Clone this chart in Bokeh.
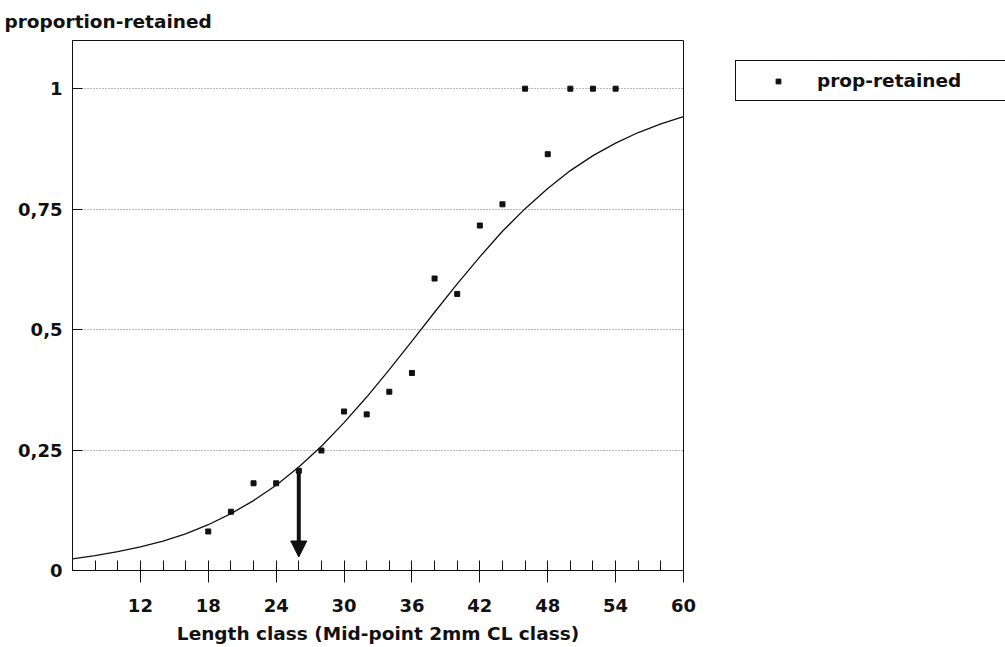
from bokeh.plotting import figure
from bokeh.layouts import row
from bokeh.models import (Range1d, FixedTicker, Arrow, NormalHead, Legend, LegendItem)
from bokeh.embed import file_html
from bokeh.resources import INLINE

# ---- data ----
length_class = [18, 20, 22, 24, 26, 28, 30, 32, 34, 36, 38, 40, 42, 44, 46, 48, 50, 52, 54]
prop_retained = [0.081, 0.122, 0.181, 0.181, 0.207, 0.249, 0.330, 0.324, 0.371, 0.410,
                 0.606, 0.574, 0.716, 0.760, 1.0, 0.864, 1.0, 1.0, 1.0]

# fitted selection curve, every 2 mm
curve_x = [6, 8, 10, 12, 14, 16, 18, 20, 22, 24, 26, 28, 30, 32, 34, 36, 38, 40,
           42, 44, 46, 48, 50, 52, 54, 56, 58, 60]
curve_y = [0.024, 0.031, 0.039, 0.049, 0.061, 0.076, 0.095, 0.118, 0.145, 0.177,
           0.215, 0.258, 0.307, 0.360, 0.417, 0.476, 0.536, 0.595, 0.651, 0.704,
           0.751, 0.793, 0.830, 0.861, 0.887, 0.909, 0.927, 0.942]

# L25 marker arrow
arrow_x = 26
arrow_y_top = 0.207
arrow_y_tip = 0.028

x_ticks = [12, 18, 24, 30, 36, 42, 48, 54, 60]
x_minor = [8, 10, 14, 16, 20, 22, 26, 28, 32, 34, 38, 40, 44, 46, 50, 52, 56, 58]
y_ticks = [0, 0.25, 0.5, 0.75, 1]
y_labels = ["0", "0,25", "0,5", "0,75", "1"]
series_name = "prop-retained"

TXT_FONT = "DejaVu Sans"
TXT_SIZE = "18.5px"
INK = "#111111"

p = figure(width=699, height=647, output_backend="svg", toolbar_location=None,
           x_range=Range1d(6, 60), y_range=Range1d(0, 1.1),
           min_border_left=72, min_border_right=16, min_border_top=40, min_border_bottom=77,
           title="proportion-retained")
p.background_fill_color = "white"
p.border_fill_color = "white"
p.outline_line_color = INK
p.outline_line_width = 1

p.title.text_font = TXT_FONT
p.title.text_font_style = "bold"
p.title.text_font_size = TXT_SIZE
p.title.text_color = INK
p.title.align = "left"
p.title.offset = -68
p.title.standoff = 17

# x axis
xa = p.xaxis[0]
xa.ticker = FixedTicker(ticks=x_ticks, minor_ticks=x_minor)
xa.axis_label = "Length class (Mid-point 2mm CL class)"
xa.axis_label_text_font = TXT_FONT
xa.axis_label_text_font_style = "bold"
xa.axis_label_text_font_size = TXT_SIZE
xa.axis_label_text_color = INK
xa.axis_label_standoff = 8
xa.major_label_text_font = TXT_FONT
xa.major_label_text_font_style = "bold"
xa.major_label_text_font_size = "18px"
xa.major_label_text_color = INK
xa.major_label_standoff = 16
xa.major_tick_in = 10
xa.major_tick_out = 12
xa.minor_tick_in = 10
xa.minor_tick_out = 0
xa.axis_line_color = INK
xa.major_tick_line_color = INK
xa.minor_tick_line_color = INK

# y axis
ya = p.yaxis[0]
ya.ticker = FixedTicker(ticks=y_ticks, minor_ticks=[])
ya.major_label_overrides = {t: l for t, l in zip(y_ticks, y_labels)}
ya.major_label_text_font = TXT_FONT
ya.major_label_text_font_style = "bold"
ya.major_label_text_font_size = "18px"
ya.major_label_text_color = INK
ya.major_label_standoff = 10
ya.major_tick_in = 10
ya.major_tick_out = 0
ya.minor_tick_line_color = None
ya.axis_line_color = INK
ya.major_tick_line_color = INK

p.xgrid.grid_line_color = None
p.ygrid.ticker = FixedTicker(ticks=[0.25, 0.5, 0.75, 1])
p.ygrid.grid_line_color = "#777777"
p.ygrid.grid_line_dash = "1 2"
p.ygrid.grid_line_width = 1

# curve
p.line(curve_x, curve_y, line_color=INK, line_width=1.3)

# points
p.scatter(length_class, prop_retained, marker="square", size=5,
          fill_color=INK, line_color=INK)

# arrow
p.add_layout(Arrow(end=NormalHead(size=16, fill_color=INK, line_color=INK, line_width=1),
                   x_start=arrow_x, y_start=arrow_y_top, x_end=arrow_x, y_end=arrow_y_tip,
                   line_color=INK, line_width=4))

# legend area (right side of the page); the series is repeated here (off-range)
# only so that the legend has a glyph to draw
p2 = figure(width=306, height=647, output_backend="svg", toolbar_location=None,
            x_range=Range1d(0, 1), y_range=Range1d(0, 1),
            min_border_left=0, min_border_right=0, min_border_top=40, min_border_bottom=77)
p2.axis.visible = False
p2.grid.visible = False
p2.outline_line_color = None
p2.background_fill_color = "white"
p2.border_fill_color = "white"
leg_r = p2.scatter(length_class, prop_retained, marker="square", size=5,
                   fill_color=INK, line_color=INK)

legend = Legend(items=[LegendItem(label=series_name, renderers=[leg_r])],
                location=(36, 469), orientation="vertical",
                glyph_width=66, glyph_height=12, label_height=20, label_width=260,
                label_standoff=6, padding=9, spacing=0, margin=0,
                border_line_color=INK, border_line_width=1.5, border_line_alpha=1.0,
                label_text_font=TXT_FONT, label_text_font_style="bold",
                label_text_font_size=TXT_SIZE, label_text_color=INK,
                background_fill_color="white", background_fill_alpha=1.0)
p2.add_layout(legend, "center")

layout = row(p, p2, spacing=0)
open("out.html", "w").write(file_html(layout, INLINE))
